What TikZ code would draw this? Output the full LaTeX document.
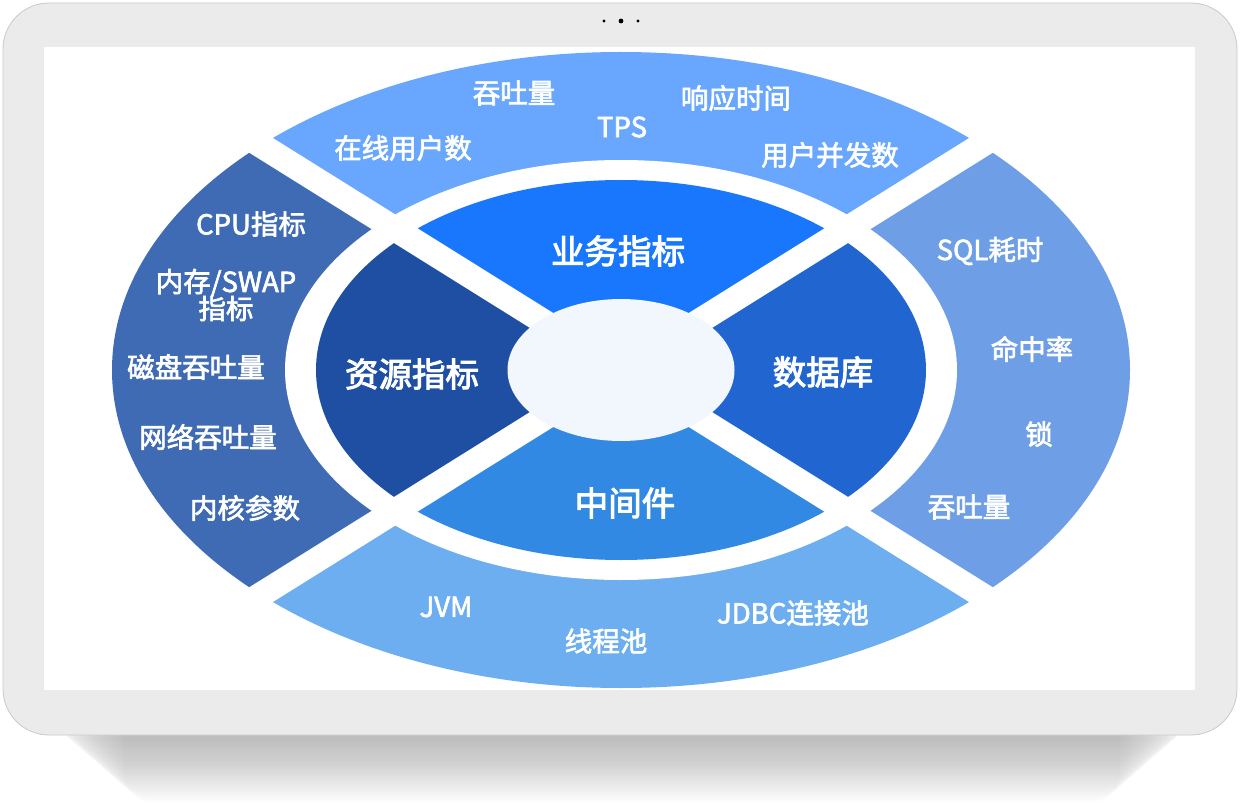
\documentclass[tikz,border=0pt]{standalone}
\usepackage{fontspec}
\setmainfont{Noto Sans CJK SC}
\newfontfamily\medfont[FakeBold=2.4]{Noto Sans CJK SC}
\newfontfamily\semifont[FakeBold=3]{Noto Sans CJK SC}
\definecolor{frameC}{HTML}{EBEBEB}
\definecolor{frameD}{HTML}{C9C9C9}
\definecolor{oTop}{HTML}{69A7FE}
\definecolor{oLeft}{HTML}{3F6BB4}
\definecolor{oRight}{HTML}{6E9FE6}
\definecolor{oBot}{HTML}{6CAEF0}
\definecolor{iTop}{HTML}{1877FD}
\definecolor{iLeft}{HTML}{1F4FA3}
\definecolor{iRight}{HTML}{2166D0}
\definecolor{iBot}{HTML}{3189E3}
\definecolor{centerC}{HTML}{F2F7FE}
\tikzset{
  outerlbl/.style={text=white, font=\medfont\fontsize{27.5}{31}\selectfont, inner sep=0pt, align=center},
  innerlbl/.style={text=white, font=\semifont\fontsize{33.5}{37}\selectfont, inner sep=0pt},
}
\begin{document}
\begin{tikzpicture}[x=1pt,y=-1pt]
\useasboundingbox (0,0) rectangle (1240,805);
% shadow
\foreach \i in {0,...,24}{
  \fill[black, opacity=0.011, rounded corners=30pt] (52+\i*3,690) rectangle (1192-\i*3,740+\i*2.6);
}
% frame
\fill[frameC, draw=frameD, line width=0.8pt, rounded corners=46pt] (3,3) rectangle (1237,735);
\fill[white] (44,47) rectangle (1195,690);
% camera dots
\fill[black] (604,21) circle[radius=1.6pt];
\fill[black] (621,21) circle[radius=2.4pt];
\fill[black] (638,21) circle[radius=1.6pt];
% coordinates
\coordinate (c) at (621,370);
\def\cx{621}\def\cy{370}
% outer ring sectors
\begin{scope}
  \clip (c) -- (\cx-1018,\cy-634) -- (\cx+1018,\cy-634) -- cycle;
  \fill[oTop] (c) ellipse[x radius=509pt, y radius=318pt];
\end{scope}
\begin{scope}
  \clip (c) -- (\cx-1018,\cy-634) -- (\cx-1018,\cy+634) -- cycle;
  \fill[oLeft] (c) ellipse[x radius=509pt, y radius=318pt];
\end{scope}
\begin{scope}
  \clip (c) -- (\cx+1018,\cy-634) -- (\cx+1018,\cy+634) -- cycle;
  \fill[oRight] (c) ellipse[x radius=509pt, y radius=318pt];
\end{scope}
\begin{scope}
  \clip (c) -- (\cx-1018,\cy+634) -- (\cx+1018,\cy+634) -- cycle;
  \fill[oBot] (c) ellipse[x radius=509pt, y radius=318pt];
\end{scope}
% ring gap
\fill[white] (c) ellipse[x radius=336pt, y radius=210pt];
% inner ring sectors
\begin{scope}
  \clip (c) -- (\cx-1018,\cy-634) -- (\cx+1018,\cy-634) -- cycle;
  \fill[iTop] (c) ellipse[x radius=305pt, y radius=190pt];
\end{scope}
\begin{scope}
  \clip (c) -- (\cx-1018,\cy-634) -- (\cx-1018,\cy+634) -- cycle;
  \fill[iLeft] (c) ellipse[x radius=305pt, y radius=190pt];
\end{scope}
\begin{scope}
  \clip (c) -- (\cx+1018,\cy-634) -- (\cx+1018,\cy+634) -- cycle;
  \fill[iRight] (c) ellipse[x radius=305pt, y radius=190pt];
\end{scope}
\begin{scope}
  \clip (c) -- (\cx-1018,\cy+634) -- (\cx+1018,\cy+634) -- cycle;
  \fill[iBot] (c) ellipse[x radius=305pt, y radius=190pt];
\end{scope}
% diagonal gaps
\coordinate (d1) at (\cx-407,\cy-254);
\coordinate (d2) at (\cx+407,\cy+254);
\coordinate (d3) at (\cx+407,\cy-254);
\coordinate (d4) at (\cx-407,\cy+254);
\draw[white, line width=25pt] (d1) -- (d2);
\draw[white, line width=25pt] (d3) -- (d4);
% center
\fill[centerC] (c) ellipse[x radius=113.5pt, y radius=71pt];
% inner labels
\node[innerlbl] (yw) at (618,251) {业务指标};
\node[innerlbl] (zy) at (412,374) {资源指标};
\node[innerlbl] (sj) at (823,372) {数据库};
\node[innerlbl] (zj) at (625,503) {中间件};
% top labels
\node[outerlbl] (t1) at (514,93) {吞吐量};
\node[outerlbl] (t2) at (622,127) {TPS};
\node[outerlbl] (t3) at (736,98) {响应时间};
\node[outerlbl] (t4) at (403,148) {在线用户数};
\node[outerlbl] (t5) at (830,155) {用户并发数};
% left labels
\node[outerlbl] (l1) at (251,224) {CPU指标};
\node[outerlbl] (l2) at (226,295) {内存/SWAP\\[-4pt]指标};
\node[outerlbl] (l3) at (196,367) {磁盘吞吐量};
\node[outerlbl] (l4) at (208,437) {网络吞吐量};
\node[outerlbl] (l5) at (245,508) {内核参数};
% right labels
\node[outerlbl] (r1) at (990,251) {SQL耗时};
\node[outerlbl] (r2) at (1032,349) {命中率};
\node[outerlbl] (r3) at (1039,434) {锁};
\node[outerlbl] (r4) at (969,507) {吞吐量};
% bottom labels
\node[outerlbl] (b1) at (446,607) {JVM};
\node[outerlbl] (b2) at (606,641) {线程池};
\node[outerlbl] (b3) at (793,613) {JDBC连接池};
\end{tikzpicture}
\end{document}
